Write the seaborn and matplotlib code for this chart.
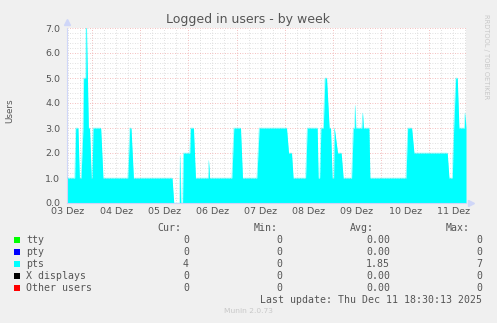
import numpy as np
import pandas as pd
import matplotlib
matplotlib.use("Agg")
import matplotlib.pyplot as plt
from matplotlib.patches import Rectangle
import seaborn as sns

# ---------------- data (days since 03 Dez 00:00) ----------------
pts_days = [0.481, 0.641, 0.661, 0.709, 0.738, 0.771, 0.813, 0.826, 0.869, 0.875,
            0.886, 0.925, 0.950, 0.985, 1.000, 1.021, 1.181, 1.228, 1.742, 1.783,
            1.810, 1.860, 2.662, 2.697, 2.816, 2.830, 2.845, 2.880, 2.895, 3.029,
            3.044, 3.106, 3.148, 3.410, 3.424, 3.438, 3.902, 3.943, 4.083, 4.124,
            4.421, 4.469, 5.038, 5.080, 5.142, 5.175, 5.433, 5.466, 5.674, 5.695,
            5.725, 5.751, 5.800, 5.834, 5.869, 5.923, 5.952, 5.985, 6.015, 6.030,
            6.098, 6.172, 6.214, 6.388, 6.422, 6.450, 6.463, 6.476, 6.600, 6.617,
            6.634, 6.748, 6.769, 7.516, 7.552, 7.635, 7.683, 8.374, 8.410, 8.478,
            8.507, 8.549, 8.582, 8.617, 8.727, 8.742, 8.763]
pts_users = [1, 1, 3, 3, 1, 1, 3, 5, 5, 7,
             7, 3, 3, 1, 1, 3, 3, 1, 1, 3,
             3, 1, 1, 0, 0, 1.9, 0, 0, 2, 2,
             3, 3, 1, 1, 1.7, 1, 1, 3, 3, 1,
             1, 3, 3, 2, 2, 1, 1, 3, 3, 1,
             1, 3, 3, 5, 5, 3, 3, 1, 1, 3,
             2, 2, 1, 1, 3, 3, 3.9, 3, 3, 3.6,
             3, 3, 1, 1, 3, 3, 2, 2, 1, 1,
             3, 5, 5, 3, 3, 3.6, 3]

day_labels = ["03 Dez", "04 Dez", "05 Dez", "06 Dez", "07 Dez",
              "08 Dez", "09 Dez", "10 Dez", "11 Dez"]
y_ticks = [0, 1, 2, 3, 4, 5, 6, 7]

series_names = ["tty", "pty", "pts", "X displays", "Other users"]
series_colors = ["#00FF00", "#0000FF", "#00FFFF", "#000000", "#FF0000"]
cur_vals = ["0", "0", "4", "0", "0"]
min_vals = ["0", "0", "0", "0", "0"]
avg_vals = ["0.00", "0.00", "1.85", "0.00", "0.00"]
max_vals = ["0", "0", "7", "0", "0"]

title = "Logged in users - by week"
last_update = "Last update: Thu Dec 11 18:30:13 2025"

# ---------------- styling ----------------
sns.set_style("white")
plt.rcParams["font.family"] = ["DejaVu Sans"]
FONT = "#555555"
AXIS = "#CFD6F8"
MGRID = "#F0A8A8"
GRID = "#D6D6D6"

W, H = 497, 323
fig = plt.figure(figsize=(W / 100, H / 100), dpi=100, facecolor="#F0F0F0")
L, R, T, B = 67, 466, 28, 203
ax = fig.add_axes([L / W, 1 - B / H, (R - L) / W, (B - T) / H])
ax.set_facecolor("#FFFFFF")

df = pd.DataFrame({"day": pts_days, "users": pts_users})
ax.fill_between(df["day"], df["users"], 0, color="#00FFFF", lw=0, zorder=2)
sns.lineplot(data=df, x="day", y="users", color="#00FFFF", lw=0.3, alpha=0.6,
             estimator=None, sort=False, ax=ax, zorder=3)

ax.set_xlim(pts_days[0], pts_days[-1])
ax.set_ylim(0, 7)

# grid
ax.set_axisbelow(True)
ax.set_xticks(np.arange(1, 9))
ax.set_xticks(np.arange(0.5, 8.8, 0.25), minor=True)
ax.set_xticklabels([])
ax.set_yticks(y_ticks)
ax.set_yticks(np.arange(0, 7.01, 0.2), minor=True)
ax.set_yticklabels([f"{v:.1f}" for v in y_ticks])
ax.grid(which="minor", color=GRID, linestyle=(0, (1, 2)), lw=0.6)
ax.grid(which="major", color=MGRID, linestyle=(0, (1, 2)), lw=0.6)
ax.tick_params(axis="x", which="major", length=3, color=MGRID, width=0.6, direction="out")
ax.tick_params(axis="x", which="minor", length=2, color=GRID, width=0.6, direction="out")
ax.tick_params(axis="y", which="major", length=3, color=MGRID, width=0.6,
               direction="out", labelsize=6.8, labelcolor=FONT, pad=2)
ax.tick_params(axis="y", which="minor", length=2, color=GRID, width=0.6, direction="out")

sec = ax.secondary_xaxis("bottom")
sec.set_xticks(np.arange(0.5, 9.0, 1.0))
sec.set_xticklabels(day_labels)
sec.tick_params(length=0, labelsize=6.8, labelcolor=FONT, pad=3)
sec.spines["bottom"].set_visible(False)

for s in ["top", "right"]:
    ax.spines[s].set_visible(False)
ax.spines["left"].set_color(AXIS)
ax.spines["bottom"].set_color(AXIS)
ax.spines["left"].set_linewidth(0.8)
ax.spines["bottom"].set_linewidth(0.8)
# axis arrows
ax.plot([0], [1.035], marker="^", ms=4, color=AXIS, transform=ax.transAxes, clip_on=False)
ax.plot([1.012], [0], marker=">", ms=4, color=AXIS, transform=ax.transAxes, clip_on=False)

ax.set_xlabel("")
ax.set_ylabel("")
fig.text(10 / W, 1 - 111 / H, "Users", rotation=90, ha="center", va="center",
         fontsize=6.3, color=FONT)
fig.text(248 / W, 1 - 20 / H, title, ha="center", va="center", fontsize=9, color=FONT)
fig.text(486 / W, 1 - 57 / H, "RRDTOOL / TOBI OETIKER", rotation=270, ha="center",
         va="center", fontsize=4.8, color="#C8C8C8")

# legend table
MONO = "DejaVu Sans Mono"
fs = 7.1
def fy(y):
    return 1 - y / H
for x, txt in [(181, "Cur:"), (278, "Min:"), (374, "Avg:"), (470, "Max:")]:
    fig.text(x / W, fy(228), txt, ha="right", va="center", family=MONO, fontsize=fs, color=FONT)
for i, name in enumerate(series_names):
    y = 240 + 12 * i
    fig.patches.append(Rectangle((14 / W, fy(y + 3)), 6 / W, 6 / H, transform=fig.transFigure,
                                 facecolor=series_colors[i], edgecolor="none"))
    fig.text(26 / W, fy(y), name, ha="left", va="center", family=MONO, fontsize=fs, color=FONT)
    fig.text(189 / W, fy(y), cur_vals[i], ha="right", va="center", family=MONO, fontsize=fs, color=FONT)
    fig.text(282 / W, fy(y), min_vals[i], ha="right", va="center", family=MONO, fontsize=fs, color=FONT)
    fig.text(390 / W, fy(y), avg_vals[i], ha="right", va="center", family=MONO, fontsize=fs, color=FONT)
    fig.text(482 / W, fy(y), max_vals[i], ha="right", va="center", family=MONO, fontsize=fs, color=FONT)
fig.text(482 / W, fy(300), last_update, ha="right", va="center", family=MONO, fontsize=fs, color=FONT)
fig.text(248 / W, fy(311), "Munin 2.0.73", ha="center", va="center", fontsize=5.4, color="#C8C8C8")

fig.savefig("out.png", dpi=100, facecolor=fig.get_facecolor())
